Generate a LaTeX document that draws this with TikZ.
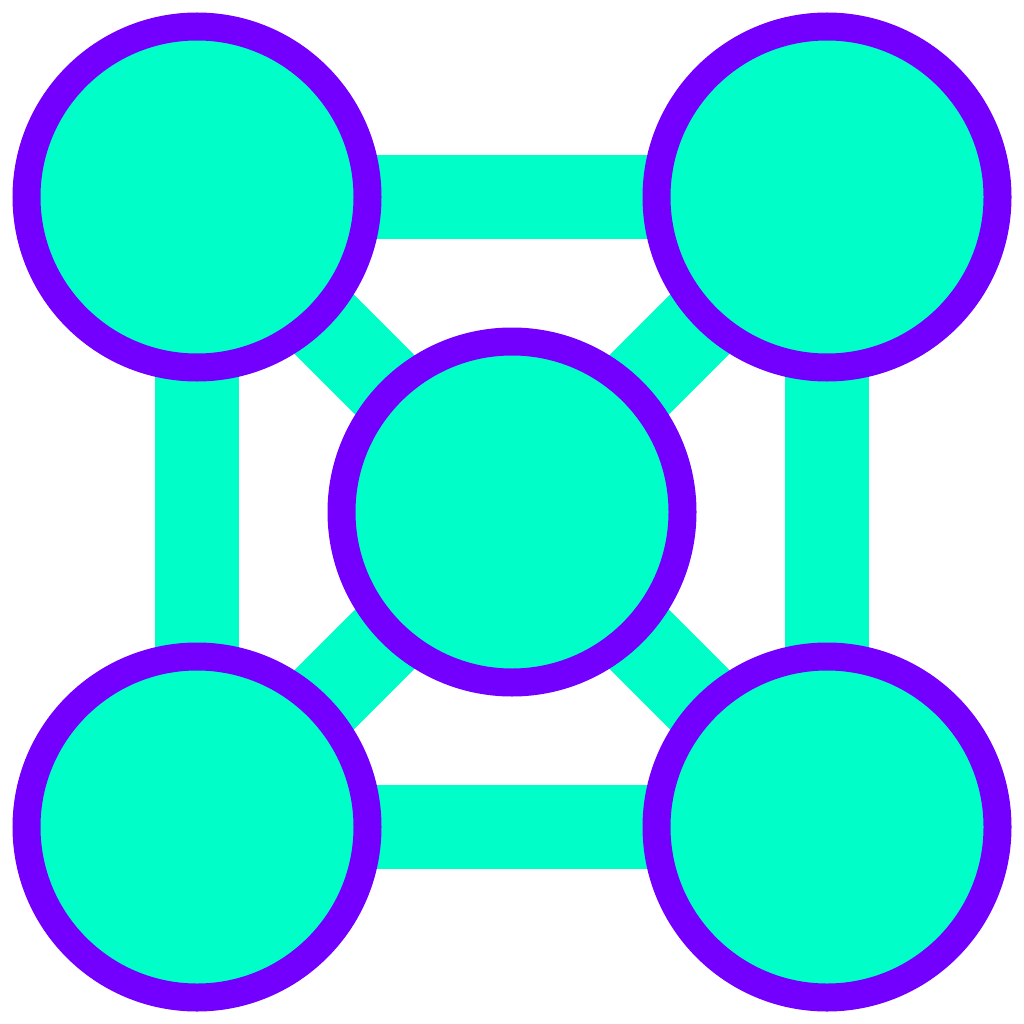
\documentclass[tikz,border=0pt]{standalone}
\usetikzlibrary{backgrounds}
\definecolor{teal1}{RGB}{0,255,200}
\definecolor{purp}{RGB}{115,0,255}
\tikzset{
  hub/.style={circle, draw=purp, fill=teal1, line width=28pt, minimum size=341pt, inner sep=0pt},
  link/.style={draw=teal1, line width=84pt}
}
\begin{document}
\begin{tikzpicture}[x=1pt,y=-1pt]
\useasboundingbox (0,0) rectangle (1024,1024);
\node[hub] (tl) at (197,197) {};
\node[hub] (tr) at (827,197) {};
\node[hub] (bl) at (197,827) {};
\node[hub] (br) at (827,827) {};
\node[hub] (c) at (512,512) {};
\begin{pgfonlayer}{background}
\draw[link] (tl.center) -- (tr.center);
\draw[link] (tr.center) -- (br.center);
\draw[link] (br.center) -- (bl.center);
\draw[link] (bl.center) -- (tl.center);
\draw[link] (tl.center) -- (c.center);
\draw[link] (tr.center) -- (c.center);
\draw[link] (bl.center) -- (c.center);
\draw[link] (br.center) -- (c.center);
\end{pgfonlayer}
\end{tikzpicture}
\end{document}
